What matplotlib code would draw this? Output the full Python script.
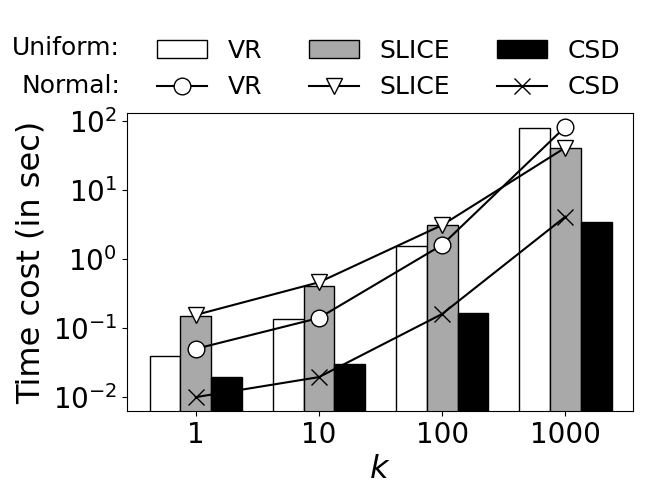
import matplotlib
matplotlib.use("Agg")
import matplotlib.pyplot as plt
import numpy as np
from matplotlib.patches import Patch
from matplotlib.lines import Line2D
from matplotlib.ticker import NullLocator

categories = ["1", "10", "100", "1000"]
methods = ["VR", "SLICE", "CSD"]

# Uniform (bars)
uni_vr = [0.039, 0.135, 1.55, 80]
uni_slice = [0.15, 0.41, 3.1, 41]
uni_csd = [0.0195, 0.030, 0.166, 3.4]

# Normal (lines)
nor_vr = [0.05, 0.14, 1.6, 82]
nor_slice = [0.155, 0.46, 3.1, 41]
nor_csd = [0.01, 0.0195, 0.16, 4.1]

bar_colors = ["white", "darkgray", "black"]
markers = ["o", "v", "x"]

fig = plt.figure(figsize=(6.5, 5), dpi=100)
ax = fig.add_axes([0.195, 0.178, 0.779, 0.596])

x = np.arange(len(categories))
w = 0.25
for i, (vals, c) in enumerate(zip([uni_vr, uni_slice, uni_csd], bar_colors)):
    ax.bar(x + (i - 1) * w, vals, w, color=c, edgecolor="black", linewidth=1.0, zorder=2)

for vals, m in zip([nor_vr, nor_slice, nor_csd], markers):
    ax.plot(x, vals, color="black", marker=m, markersize=12, markerfacecolor="white",
            markeredgecolor="black", markeredgewidth=1.0, linewidth=1.5, zorder=3)

ax.set_yscale("log")
ax.set_ylim(0.0063, 130)
ax.set_xlim(-0.56, 3.55)
ax.yaxis.set_minor_locator(NullLocator())
ax.set_xticks(x)
ax.set_xticklabels(categories)
ax.tick_params(labelsize=20)
ax.set_ylabel("Time cost (in sec)", fontsize=23)
ax.set_xlabel("$k$", fontsize=23)

handles = []
labels = []
for mname, c, m in zip(methods, bar_colors, markers):
    handles.append(Patch(facecolor=c, edgecolor="black", linewidth=1.0))
    labels.append(mname)
    handles.append(Line2D([], [], color="black", marker=m, markersize=12,
                          markerfacecolor="white", markeredgecolor="black", linewidth=1.5))
    labels.append(mname)

fig.legend(handles, labels, ncol=3, loc="center", bbox_to_anchor=(0.598, 0.862),
           frameon=False, fontsize=18, handlelength=2.0, handletextpad=0.8,
           columnspacing=1.9, labelspacing=0.5, borderpad=0)

fig.text(120 / 650, 1 - 48 / 500, "Uniform:", ha="right", va="center", fontsize=18)
fig.text(120 / 650, 1 - 86 / 500, "Normal:", ha="right", va="center", fontsize=18)

fig.savefig("out.png", dpi=100)
